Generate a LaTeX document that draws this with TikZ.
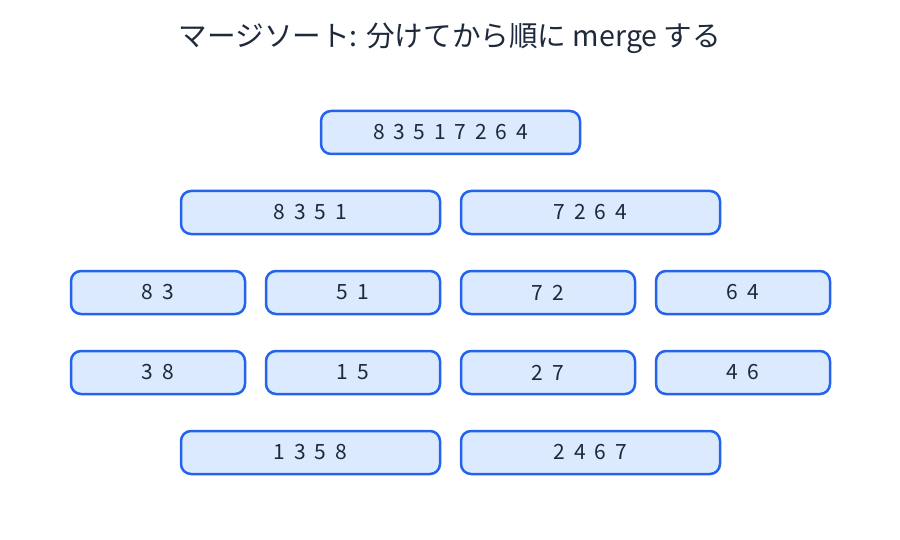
\documentclass[tikz,border=0pt]{standalone}
\usepackage{fontspec}
\setmainfont{Noto Sans CJK JP}
\usetikzlibrary{positioning}
\definecolor{boxfill}{HTML}{DBEAFE}
\definecolor{boxline}{HTML}{2563EB}
\definecolor{ink}{HTML}{1E293B}
\newcommand\cellfont{\fontsize{10.5}{12}\selectfont\spaceskip=4.4pt\relax}
\begin{document}
\begin{tikzpicture}[
  node distance=18.5pt,
  every node/.style={text=ink},
  cell/.style={draw=boxline, line width=1.25pt, rounded corners=5pt, fill=boxfill,
    minimum height=21.5pt, inner sep=0pt, outer sep=0pt, font=\cellfont},
  wide/.style={cell, minimum width=129.5pt},
  narrow/.style={cell, minimum width=87pt}
]
\useasboundingbox (0,0) rectangle (450pt,-270pt);

% Title
\node[font=\fontsize{14.3}{16}\selectfont] (title) at (225pt,-19pt) {マージソート: 分けてから順に merge する};

% Split levels
\node[wide] (all) at (225.25pt,-66.25pt) {8 3 5 1 7 2 6 4};
\node[wide, below left=18.5pt and 5.25pt of all.south] (half1) {8 3 5 1};
\node[wide, right=10.5pt of half1] (half2) {7 2 6 4};

\node[narrow, below left=18.5pt and 0pt of half1.south east] (pair2) {5 1};
\node[narrow, left=10.5pt of pair2] (pair1) {8 3};
\node[narrow, below right=18.5pt and 0pt of half2.south west] (pair3) {7 2};
\node[narrow, right=10.5pt of pair3] (pair4) {6 4};

% Merge levels
\node[narrow, below=of pair1] (sort1) {3 8};
\node[narrow, below=of pair2] (sort2) {1 5};
\node[narrow, below=of pair3] (sort3) {2 7};
\node[narrow, below=of pair4] (sort4) {4 6};

\node[wide, below left=18.5pt and 0pt of sort2.south east] (merge1) {1 3 5 8};
\node[wide, below right=18.5pt and 0pt of sort3.south west] (merge2) {2 4 6 7};
\end{tikzpicture}
\end{document}
